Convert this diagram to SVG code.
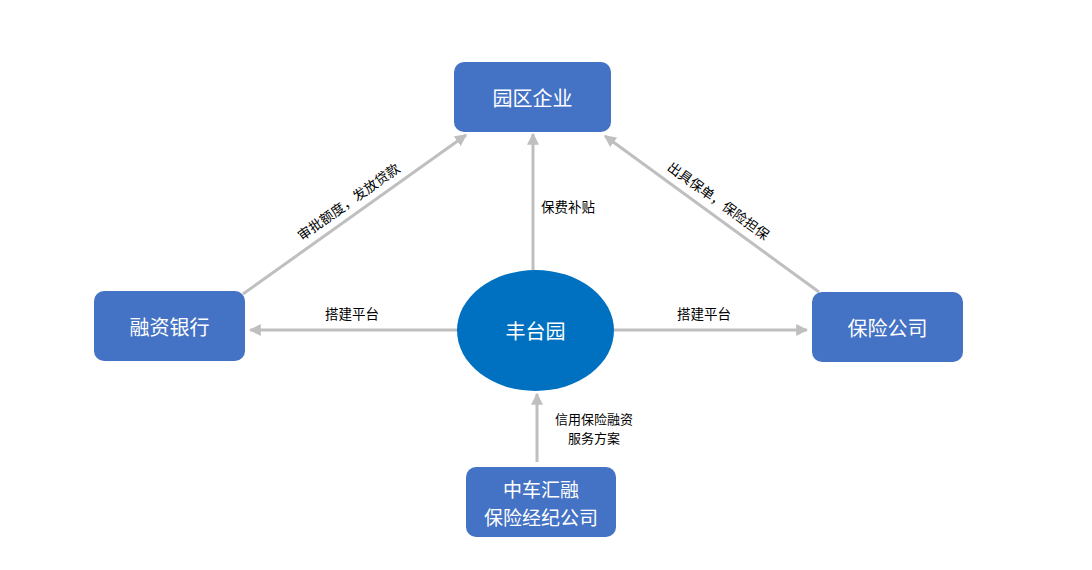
<svg xmlns="http://www.w3.org/2000/svg" width="1092" height="570" viewBox="0 0 1092 570">
<style>
.box{fill:#4472C4}
.ell{fill:#0070C0}
.bt{fill:#fff;font-family:"Microsoft YaHei","Noto Sans CJK SC",sans-serif;font-size:20px;text-anchor:middle;dominant-baseline:central}
.bt2{font-size:19px}
.lb{fill:#000;font-family:"Microsoft YaHei","Noto Sans CJK SC",sans-serif;font-size:13.5px;text-anchor:middle;dominant-baseline:central}
.lb2{font-size:13px}
.ln{stroke:#BFBFBF;stroke-width:3;fill:none;marker-end:url(#ah)}
</style>
<defs>
<marker id="ah" viewBox="0 0 10 10" refX="9" refY="5" markerWidth="4" markerHeight="4" orient="auto" markerUnits="strokeWidth">
<path d="M0,0 L10,5 L0,10 z" fill="#BFBFBF"/>
</marker>
</defs>
<rect width="1092" height="570" fill="#fff"/>
<g id="connectors">
<line class="ln" x1="533" y1="270" x2="533" y2="134"/>
<line class="ln" x1="457" y1="330" x2="250" y2="330"/>
<line class="ln" x1="614" y1="330" x2="807" y2="330"/>
<line class="ln" x1="537" y1="462" x2="537" y2="394"/>
<line class="ln" x1="243" y1="294" x2="466" y2="135"/>
<line class="ln" x1="819" y1="292" x2="605" y2="136"/>
<text class="lb" x="568" y="206">保费补贴</text>
<text class="lb" x="352" y="313">搭建平台</text>
<text class="lb" x="704" y="313">搭建平台</text>
<text class="lb lb2" x="594" y="418">信用保险融资</text>
<text class="lb lb2" x="594" y="437.5">服务方案</text>
<text class="lb" transform="translate(348,201) rotate(-35.5)">审批额度，发放贷款</text>
<text class="lb" transform="translate(719,200) rotate(36)">出具保单，保险担保</text>
</g>
<g id="n1"><rect class="box" x="454" y="62" width="157" height="70" rx="10"/><text class="bt" x="532.5" y="97">园区企业</text></g>
<g id="n2"><rect class="box" x="94" y="291" width="151" height="70" rx="10"/><text class="bt" x="169.5" y="326">融资银行</text></g>
<g id="n3"><rect class="box" x="812" y="292" width="151" height="70" rx="10"/><text class="bt" x="887.5" y="327">保险公司</text></g>
<g id="n4"><ellipse class="ell" cx="535.5" cy="330.5" rx="78.5" ry="60.5"/><text class="bt" x="535.5" y="330">丰台园</text></g>
<g id="n5"><rect class="box" x="466" y="467" width="150" height="70" rx="10"/><text class="bt bt2" x="541" y="488">中车汇融</text><text class="bt bt2" x="541" y="516">保险经纪公司</text></g>
</svg>
